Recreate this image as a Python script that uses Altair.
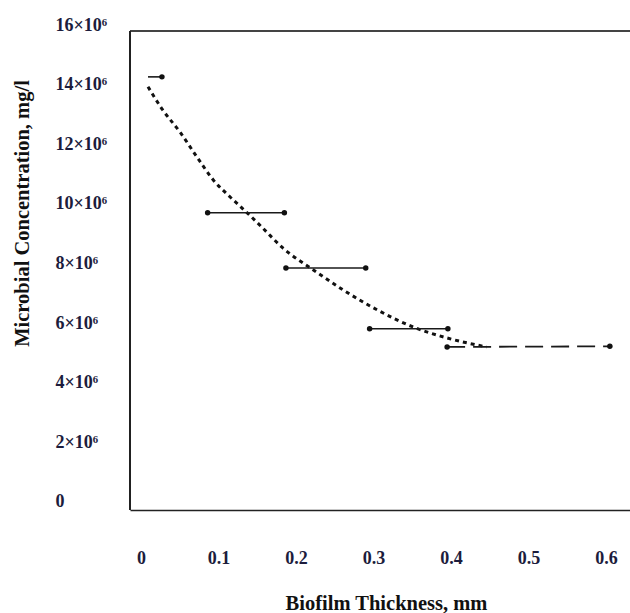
import altair as alt
import pandas as pd

# ---- data ----
# horizontal step segments (x start, x end, concentration)
seg_id = ["s1", "s2", "s3", "s4"]
seg_x0 = [0.009, 0.086, 0.187, 0.295]
seg_x1 = [0.027, 0.185, 0.290, 0.396]
seg_y = [14.26e6, 9.70e6, 7.85e6, 5.81e6]

# final dashed segment
tail_x = [0.395, 0.605]
tail_y = [5.20e6, 5.22e6]

# dotted fitted curve
curve_x = [0.009, 0.028, 0.050, 0.072, 0.093, 0.115, 0.137, 0.157, 0.183,
           0.222, 0.261, 0.305, 0.351, 0.395, 0.446]
curve_y = [13.93e6, 13.15e6, 12.42e6, 11.58e6, 10.81e6, 10.23e6, 9.70e6,
           9.19e6, 8.52e6, 7.79e6, 7.11e6, 6.44e6, 5.87e6, 5.50e6, 5.20e6]

x_ticks = [0, 0.1, 0.2, 0.3, 0.4, 0.5, 0.6]
y_ticks = [0, 2e6, 4e6, 6e6, 8e6, 10e6, 12e6, 14e6, 16e6]

XMIN, XMAX = -0.0142, 0.631
YMIN, YMAX = -0.27e6, 16e6
YTOP = 15.8e6

FONT = "Liberation Serif"
LBL = "#1c1c3c"

rows = []
for i, s in enumerate(seg_id):
    rows.append({"id": s, "x": seg_x0[i], "y": seg_y[i], "end": "start"})
    rows.append({"id": s, "x": seg_x1[i], "y": seg_y[i], "end": "end"})
seg_df = pd.DataFrame(rows)
tail_df = pd.DataFrame({"x": tail_x, "y": tail_y})
curve_df = pd.DataFrame({"x": curve_x, "y": curve_y})

xs = alt.Scale(domain=[XMIN, XMAX], nice=False, zero=False)
ys = alt.Scale(domain=[YMIN, YMAX], nice=False, zero=False)

xax = alt.Axis(
    values=x_ticks, grid=False, ticks=False, tickSize=0,
    labelExpr="datum.value == 0 ? '0' : format(datum.value, '.1f')",
    labelFont=FONT, labelFontWeight="bold", labelFontSize=18, labelColor=LBL,
    labelBaseline="middle", labelPadding=48,
    domainColor="#222", domainWidth=1.5,
    title="Biofilm Thickness, mm", titleFont=FONT, titleFontWeight="bold",
    titleFontSize=20.5, titleColor="#111", titleX=256, titleY=93,
    titleAlign="center", titleBaseline="middle",
)
yax = alt.Axis(
    values=y_ticks, grid=False, ticks=False, tickSize=0, domain=False,
    labelExpr="datum.value == 0 ? '0' : format(datum.value / 1e6, 'd') + '×10⁶'",
    labelFont=FONT, labelFontWeight="bold", labelFontSize=18, labelColor=LBL,
    labelAlign="left", labelBaseline="middle", labelPadding=75,
    title="Microbial Concentration, mg/l", titleFont=FONT, titleFontWeight="bold",
    titleFontSize=20.5, titleColor="#111", titleX=-108, titleY=188,
    titleAngle=-90, titleAlign="center", titleBaseline="middle",
)

base_x = alt.X("x:Q", scale=xs, axis=xax)
base_y = alt.Y("y:Q", scale=ys, axis=yax)

segs = alt.Chart(seg_df).mark_line(color="#1a1a1a", strokeWidth=1.6).encode(
    x=base_x, y=base_y, detail="id:N")
seg_pts = alt.Chart(seg_df).transform_filter(
    "datum.id != 's1' || datum.end == 'end'"
).mark_circle(color="#111", size=30, opacity=1).encode(x="x:Q", y="y:Q")

tail = alt.Chart(tail_df).mark_line(color="#1a1a1a", strokeWidth=1.8,
                                     strokeDash=[18, 8]).encode(x="x:Q", y="y:Q")
tail_pts = alt.Chart(tail_df).mark_circle(color="#111", size=30, opacity=1).encode(
    x="x:Q", y="y:Q")

curve = alt.Chart(curve_df).mark_line(color="#111", strokeWidth=3,
                                      strokeDash=[4, 4], interpolate="monotone").encode(
    x="x:Q", y="y:Q")

top_line = alt.Chart(curve_df).mark_rule(color="#444", strokeWidth=2).encode(
    y=alt.datum(YTOP))
left_line = alt.Chart(curve_df).mark_rule(color="#222", strokeWidth=1.5).encode(
    x=alt.datum(XMIN), y=alt.datum(YTOP), y2=alt.datum(YMIN))

chart = alt.layer(top_line, left_line, curve, segs, seg_pts, tail, tail_pts).properties(
    width=500, height=485,
    autosize=alt.AutoSizeParams(type="none"),
    padding={"left": 130, "top": 25, "right": 0, "bottom": 103},
    background="white",
).configure_view(stroke=None)

chart.save("out.html", embed_options={"renderer": "svg", "actions": False})
